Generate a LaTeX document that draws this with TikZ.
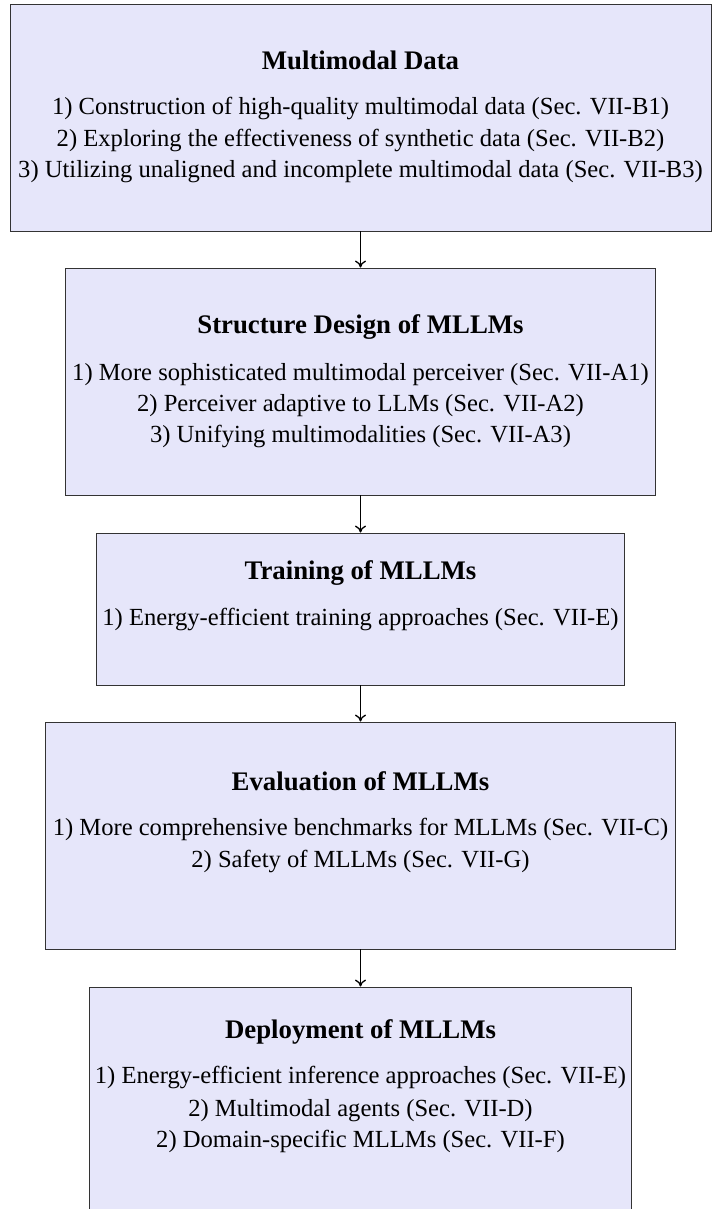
\documentclass[tikz,border=0pt]{standalone}
\usepackage{fontspec}
\setmainfont{Liberation Serif}
\usetikzlibrary{arrows.meta}
\definecolor{boxfill}{RGB}{230,230,250}
\begin{document}
\begin{tikzpicture}[x=1pt,y=-1pt,
  box/.style={draw=black!80, line width=0.9pt, fill=boxfill, rectangle, inner sep=0pt},
  ttl/.style={font=\fontsize{26.8}{32}\selectfont\bfseries, anchor=base, inner sep=0pt},
  itm/.style={font=\fontsize{24.6}{32}\selectfont, anchor=base, inner sep=0pt},
  arr/.style={-{To[length=7pt,width=11pt]}, line width=1.3pt}]
\clip (0,0) rectangle (715,1209);
% boxes
\node[box, minimum width=701pt, minimum height=227pt] (b1) at (360.5,117.5) {};
\node[box, minimum width=590pt, minimum height=227pt] (b2) at (360.5,381.5) {};
\node[box, minimum width=527.6pt, minimum height=152pt] (b3) at (360.5,609) {};
\node[box, minimum width=630pt, minimum height=227pt] (b4) at (360.5,835.5) {};
\node[box, minimum width=542.4pt, minimum height=227pt] (b5) at (360.5,1100.5) {};
% box 1 text
\node[ttl] (t1) at (360.5,70) {Multimodal Data};
\node[itm] (t1a) at (360.5,115) {1) Construction of high-quality multimodal data (Sec. VII-B1)};
\node[itm] (t1b) at (360.5,147) {2) Exploring the effectiveness of synthetic data (Sec. VII-B2)};
\node[itm] (t1c) at (360.5,178) {3) Utilizing unaligned and incomplete multimodal data (Sec. VII-B3)};
% box 2 text
\node[ttl] (t2) at (360.5,333) {Structure Design of MLLMs};
\node[itm] (t2a) at (360.5,380) {1) More sophisticated multimodal perceiver (Sec. VII-A1)};
\node[itm] (t2b) at (360.5,411) {2) Perceiver adaptive to LLMs (Sec. VII-A2)};
\node[itm] (t2c) at (360.5,442) {3) Unifying multimodalities (Sec. VII-A3)};
% box 3 text
\node[ttl] (t3) at (360.5,579) {Training of MLLMs};
\node[itm] (t3a) at (360.5,625) {1) Energy-efficient training approaches (Sec. VII-E)};
% box 4 text
\node[ttl] (t4) at (360.5,790) {Evaluation of MLLMs};
\node[itm] (t4a) at (360.5,835) {1) More comprehensive benchmarks for MLLMs (Sec. VII-C)};
\node[itm] (t4b) at (360.5,867) {2) Safety of MLLMs (Sec. VII-G)};
% box 5 text
\node[ttl] (t5) at (360.5,1038) {Deployment of MLLMs};
\node[itm] (t5a) at (360.5,1083) {1) Energy-efficient inference approaches (Sec. VII-E)};
\node[itm] (t5b) at (360.5,1116) {2) Multimodal agents (Sec. VII-D)};
\node[itm] (t5c) at (360.5,1147) {2) Domain-specific MLLMs (Sec. VII-F)};
% arrows
\draw[arr] (b1.south) -- (b2.north);
\draw[arr] (b2.south) -- (b3.north);
\draw[arr] (b3.south) -- (b4.north);
\draw[arr] (b4.south) -- (b5.north);
\end{tikzpicture}
\end{document}
